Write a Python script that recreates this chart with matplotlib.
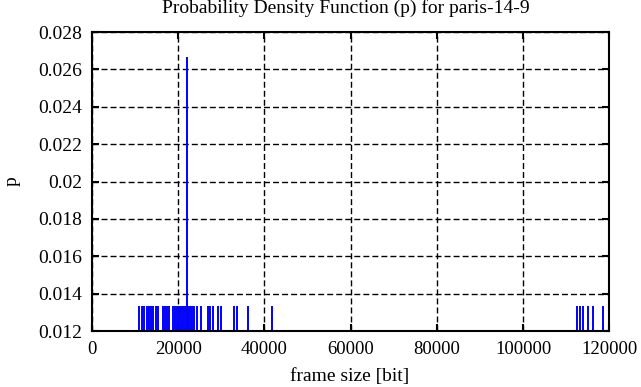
import numpy as np
import matplotlib
matplotlib.use("Agg")
import matplotlib.pyplot as plt

# frame sizes [bit] and their probability
frame_size = [10900, 11500, 12070, 12766, 13230, 13694, 14158, 14854, 15318,
              16363, 16827, 17291, 17871, 18800, 19264, 19728, 20193, 20657,
              21121, 21585, 21980, 22282, 22746, 23210, 23674, 24254, 25299,
              26924, 27388, 27968, 29245, 29941, 32958, 33539, 36208, 41778,
              112591, 113288, 113868, 115144, 116305, 118626]
p = [0.01333] * len(frame_size)
p[frame_size.index(21980)] = 0.02667

yticks = [0.012, 0.014, 0.016, 0.018, 0.02, 0.022, 0.024, 0.026, 0.028]
ytick_labels = ["0.012", "0.014", "0.016", "0.018", "0.02", "0.022", "0.024", "0.026", "0.028"]
xticks = [0, 20000, 40000, 60000, 80000, 100000, 120000]

plt.rcParams['font.family'] = ['Liberation Serif', 'DejaVu Serif']
plt.rcParams['font.size'] = 13.5

fig = plt.figure(figsize=(6.41, 3.87), dpi=100)
ax = fig.add_axes([0.1435, 0.1447, 0.807, 0.7726])

ax.vlines(frame_size, 0.012, p, colors='#0000ff', linewidth=1.4)

ax.set_xlim(0, 120000)
ax.set_ylim(0.012, 0.028)
ax.set_xticks(xticks)
ax.set_xticklabels([str(x) for x in xticks], fontsize=13.5)
ax.set_yticks(yticks)
ax.set_yticklabels(ytick_labels, fontsize=14)

ax.grid(True, color='black', linestyle=(0, (4.3, 2.2)), linewidth=1.0)
ax.set_axisbelow(True)
ax.tick_params(direction='in', length=5, width=1.5, top=True, right=True)
ax.tick_params(axis='x', pad=7)
ax.tick_params(axis='y', pad=7)
for s in ax.spines.values():
    s.set_linewidth(1.5)

fig.text(0.539, 1 - 13 / 387, 'Probability Density Function (p) for paris-14-9',
         ha='center', va='baseline', fontsize=14)
fig.text(0.546, 1 - 381 / 387, 'frame size [bit]', ha='center', va='baseline', fontsize=14)
fig.text(0.019, 0.532, 'p', ha='center', va='center', rotation=90, fontsize=14)

fig.savefig('out.png', dpi=100)
